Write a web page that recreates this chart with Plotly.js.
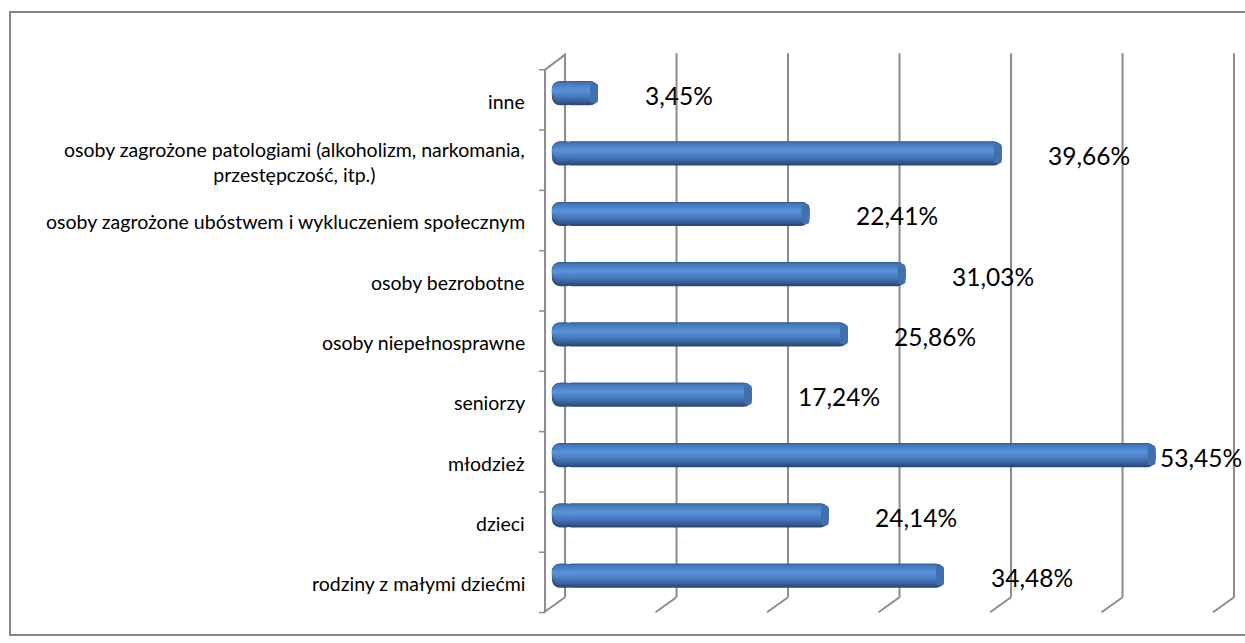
<!DOCTYPE html>
<html>
<head>
<meta charset="utf-8">
<script src="https://cdn.plot.ly/plotly-3.0.1.min.js"></script>
<style>
  html, body { margin: 0; padding: 0; background: #ffffff; }
  #chart { width: 1245px; height: 643px; }
</style>
</head>
<body>
<div id="chart"></div>
<script>
// ---- data (bottom to top, as drawn) ----
const categories = [
  'rodziny z małymi dziećmi',
  'dzieci',
  'młodzież',
  'seniorzy',
  'osoby niepełnosprawne',
  'osoby bezrobotne',
  'osoby zagrożone ubóstwem i wykluczeniem społecznym',
  'osoby zagrożone patologiami (alkoholizm, narkomania,<br>przestępczość, itp.)',
  'inne'
];
const values = [34.48, 24.14, 53.45, 17.24, 25.86, 31.03, 22.41, 39.66, 3.45];
const valueLabels = ['34,48%', '24,14%', '53,45%', '17,24%', '25,86%', '31,03%', '22,41%', '39,66%', '3,45%'];
const gridValues = [0, 10, 20, 30, 40, 50, 60];

// ---- layout geometry ----
const W = 1245, H = 643;
const M = { l: 535, r: 0, t: 45, b: 22 };
const plotW = W - M.l - M.r, plotH = H - M.t - M.b;
const PX_PER_UNIT_X = 11.15, PX_PER_UNIT_Y = plotH / 9.55;
const X_RANGE = [-2.2, -2.2 + plotW / PX_PER_UNIT_X];
const Y_RANGE = [-0.75, 8.8];
const pxX = (px) => (px - M.l) / plotW;           // pixel -> paper x
const pxY = (py) => (H - M.b - py) / plotH;       // pixel -> paper y
const dy = (px) => px / PX_PER_UNIT_Y;            // pixel height -> y units

const pos = categories.map((c, i) => i);
const BAR_BASE = -0.68;                           // visual start of the cylinder
const BODY_START = BAR_BASE + 1.0;                // body overlaps the rounded left end
const LEFT_END = 2.0;                             // length of the rounded left piece
const GRID_COLOR = '#8c8c8c';
const FONT = 'Lato, "Open Sans", "Liberation Sans", sans-serif';

// cylinder look: nested bands (top/bottom in px from the bar centre, up positive)
const bands = [
  { top: 12,   bot: -12, color: '#2b4a76', r: 8 },
  { top: 12,   bot: -10, color: '#33598f', r: 8 },
  { top: 11.5, bot: -8,  color: '#3a65a1', r: 7 },
  { top: 11,   bot: -6,  color: '#4171b2', r: 7 },
  { top: 10,   bot: -4,  color: '#477bbe', r: 6 },
  { top: 8,    bot: -2,  color: '#4d83c8', r: 5 },
  { top: 6,    bot: 0,   color: '#538bd0', r: 3 },
  { top: 4.5,  bot: 1.5, color: '#5891d7', r: 1.5 }
];

const traces = [];
bands.forEach(b => {
  // rounded left end (drawn first, overlapped by the body)
  traces.push({
    type: 'bar', orientation: 'h', y: pos,
    x: values.map(() => -LEFT_END),
    base: BAR_BASE + LEFT_END,
    width: dy(b.top - b.bot), offset: dy(b.bot),
    marker: { color: b.color, cornerradius: b.r, line: { width: 0 } },
    hoverinfo: 'skip', showlegend: false
  });
  // body, rounded at the value end
  traces.push({
    type: 'bar', orientation: 'h', y: pos,
    x: values.map(v => v - BODY_START),
    base: BODY_START,
    width: dy(b.top - b.bot), offset: dy(b.bot),
    marker: { color: b.color, cornerradius: b.r, line: { width: 0 } },
    hoverinfo: 'skip', showlegend: false
  });
});
// slightly darker elliptic face at the value end
traces.push({
  type: 'bar', orientation: 'h', y: pos,
  x: values.map(() => 0.7),
  base: values.map(v => v - 0.7),
  width: dy(20), offset: dy(-10),
  marker: { color: '#4170ac', cornerradius: 6, line: { width: 0 } },
  hoverinfo: 'skip', showlegend: false
});

// ---- decorations: back wall gridlines, floor diagonals, left axis ----
const shapes = [];
const Y_WALL_TOP = 8.665, Y_FLOOR_BACK = -0.357, Y_FLOOR_FRONT = -0.605;
gridValues.forEach(g => {
  shapes.push({ type: 'line', xref: 'x', yref: 'y', xsizemode: 'pixel', xanchor: g,
    x0: 5.5, x1: 5.5, y0: Y_FLOOR_BACK, y1: Y_WALL_TOP,
    line: { color: GRID_COLOR, width: 2 }, layer: 'below' });
  shapes.push({ type: 'line', xref: 'x', yref: 'y', xsizemode: 'pixel', xanchor: g,
    x0: 5.5, x1: -15.5, y0: Y_FLOOR_BACK, y1: Y_FLOOR_FRONT,
    line: { color: GRID_COLOR, width: 2 }, layer: 'below' });
});
// left (category) axis
shapes.push({ type: 'line', xref: 'x', yref: 'y', xsizemode: 'pixel', xanchor: 0,
  x0: -14.5, x1: -14.5, y0: Y_FLOOR_FRONT, y1: 8.39,
  line: { color: GRID_COLOR, width: 2 }, layer: 'below' });
shapes.push({ type: 'line', xref: 'x', yref: 'y', xsizemode: 'pixel', xanchor: 0,
  x0: -14.5, x1: 5.5, y0: 8.39, y1: 8.64,
  line: { color: GRID_COLOR, width: 2 }, layer: 'below' });
for (let k = 0; k <= categories.length; k++) {
  const yy = k - 0.61;
  shapes.push({ type: 'line', xref: 'x', yref: 'y', xsizemode: 'pixel', xanchor: 0,
    x0: -20.5, x1: -14.5, y0: yy, y1: yy,
    line: { color: GRID_COLOR, width: 1.5 }, layer: 'below' });
}
// chart border
shapes.push({ type: 'rect', xref: 'paper', yref: 'paper',
  x0: pxX(10), x1: pxX(1250), y0: pxY(635), y1: pxY(12),
  line: { color: '#868686', width: 2 }, fillcolor: 'rgba(0,0,0,0)', layer: 'below' });

// ---- text ----
const annotations = [];
categories.forEach((c, i) => {
  annotations.push({ xref: 'x', yref: 'y', x: 0, y: i, xshift: -32.5, yshift: -8,
    xanchor: 'right', yanchor: 'middle', align: 'center', showarrow: false,
    text: c, font: { family: FONT, size: 19.5, color: '#000000' } });
});
const LABEL_PAD = 4.0, LABEL_MAX = 53.7;
values.forEach((v, i) => {
  annotations.push({ xref: 'x', yref: 'y', x: Math.min(v + LABEL_PAD, LABEL_MAX), y: i,
    yshift: -2, xanchor: 'left', yanchor: 'middle', showarrow: false,
    text: valueLabels[i], font: { family: FONT, size: 24.5, color: '#000000' } });
});

const layout = {
  width: W, height: H,
  margin: M,
  paper_bgcolor: '#ffffff', plot_bgcolor: '#ffffff',
  barmode: 'overlay',
  showlegend: false,
  xaxis: { range: X_RANGE, showgrid: false, zeroline: false, showticklabels: false,
           showline: false, ticks: '', fixedrange: true },
  yaxis: { range: Y_RANGE, showgrid: false, zeroline: false, showticklabels: false,
           showline: false, ticks: '', fixedrange: true },
  shapes: shapes,
  annotations: annotations
};

Plotly.newPlot('chart', traces, layout, { displayModeBar: false, staticPlot: true });
</script>
</body>
</html>
